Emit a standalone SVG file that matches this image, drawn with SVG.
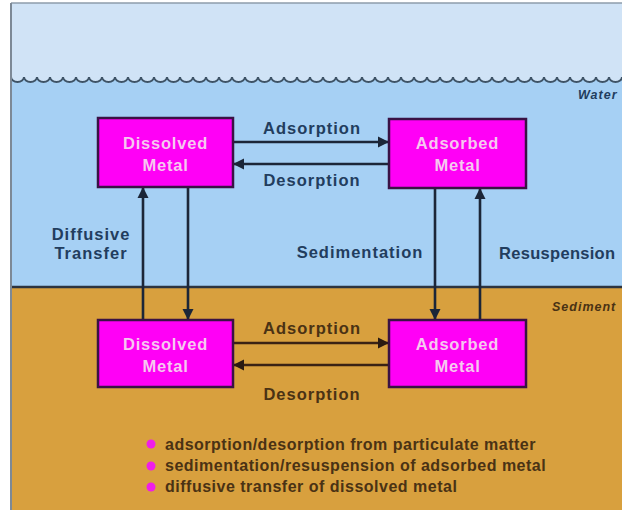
<svg xmlns="http://www.w3.org/2000/svg" width="622" height="510" viewBox="0 0 622 510">
<defs>
<style>
.lbl{font-family:"Liberation Sans",Arial,sans-serif;font-weight:bold;font-size:16.5px;letter-spacing:1px;text-anchor:middle}
.w{fill:#223d5e}
.s{fill:#4a3214}
.box{fill:#ff00f6;stroke:#3a1244;stroke-width:2.5}
.bt{font-family:"Liberation Sans",Arial,sans-serif;font-weight:bold;font-size:16.5px;letter-spacing:0.8px;text-anchor:middle;fill:#f6c8f0}
.tag{font-family:"Liberation Sans",Arial,sans-serif;font-weight:bold;font-style:italic;font-size:12.5px;letter-spacing:1px}
.leg{font-family:"Liberation Sans",Arial,sans-serif;font-weight:bold;font-size:16px;letter-spacing:0.5px;fill:#4a3214}
.cw{stroke:#1c2638;stroke-width:2.6;fill:none}
.cs{stroke:#3a2214;stroke-width:2.6;fill:none}
</style>
<marker id="ah" viewBox="0 0 10 10" refX="10" refY="5" markerWidth="4.4" markerHeight="4.4" orient="auto" markerUnits="strokeWidth">
<path d="M0,0 L10,5 L0,10 z" fill="#1c2638"/>
</marker>
<marker id="ahs" viewBox="0 0 10 10" refX="10" refY="5" markerWidth="4.4" markerHeight="4.4" orient="auto" markerUnits="strokeWidth">
<path d="M0,0 L10,5 L0,10 z" fill="#2a1a12"/>
</marker>
</defs>
<rect x="0" y="0" width="622" height="510" fill="#ffffff"/>
<g id="background">
<rect x="11" y="3" width="611" height="90" fill="#d0e3f6"/>
<path d="M11,77 a6.5,5 0 0 0 13,0 a6.5,5 0 0 0 13,0 a6.5,5 0 0 0 13,0 a6.5,5 0 0 0 13,0 a6.5,5 0 0 0 13,0 a6.5,5 0 0 0 13,0 a6.5,5 0 0 0 13,0 a6.5,5 0 0 0 13,0 a6.5,5 0 0 0 13,0 a6.5,5 0 0 0 13,0 a6.5,5 0 0 0 13,0 a6.5,5 0 0 0 13,0 a6.5,5 0 0 0 13,0 a6.5,5 0 0 0 13,0 a6.5,5 0 0 0 13,0 a6.5,5 0 0 0 13,0 a6.5,5 0 0 0 13,0 a6.5,5 0 0 0 13,0 a6.5,5 0 0 0 13,0 a6.5,5 0 0 0 13,0 a6.5,5 0 0 0 13,0 a6.5,5 0 0 0 13,0 a6.5,5 0 0 0 13,0 a6.5,5 0 0 0 13,0 a6.5,5 0 0 0 13,0 a6.5,5 0 0 0 13,0 a6.5,5 0 0 0 13,0 a6.5,5 0 0 0 13,0 a6.5,5 0 0 0 13,0 a6.5,5 0 0 0 13,0 a6.5,5 0 0 0 13,0 a6.5,5 0 0 0 13,0 a6.5,5 0 0 0 13,0 a6.5,5 0 0 0 13,0 a6.5,5 0 0 0 13,0 a6.5,5 0 0 0 13,0 a6.5,5 0 0 0 13,0 a6.5,5 0 0 0 13,0 a6.5,5 0 0 0 13,0 a6.5,5 0 0 0 13,0 a6.5,5 0 0 0 13,0 a6.5,5 0 0 0 13,0 a6.5,5 0 0 0 13,0 a6.5,5 0 0 0 13,0 a6.5,5 0 0 0 13,0 a6.5,5 0 0 0 13,0 a6.5,5 0 0 0 13,0 L622,287 L11,287 Z" fill="#a6d0f4"/>
<path d="M11,77 a6.5,5 0 0 0 13,0 a6.5,5 0 0 0 13,0 a6.5,5 0 0 0 13,0 a6.5,5 0 0 0 13,0 a6.5,5 0 0 0 13,0 a6.5,5 0 0 0 13,0 a6.5,5 0 0 0 13,0 a6.5,5 0 0 0 13,0 a6.5,5 0 0 0 13,0 a6.5,5 0 0 0 13,0 a6.5,5 0 0 0 13,0 a6.5,5 0 0 0 13,0 a6.5,5 0 0 0 13,0 a6.5,5 0 0 0 13,0 a6.5,5 0 0 0 13,0 a6.5,5 0 0 0 13,0 a6.5,5 0 0 0 13,0 a6.5,5 0 0 0 13,0 a6.5,5 0 0 0 13,0 a6.5,5 0 0 0 13,0 a6.5,5 0 0 0 13,0 a6.5,5 0 0 0 13,0 a6.5,5 0 0 0 13,0 a6.5,5 0 0 0 13,0 a6.5,5 0 0 0 13,0 a6.5,5 0 0 0 13,0 a6.5,5 0 0 0 13,0 a6.5,5 0 0 0 13,0 a6.5,5 0 0 0 13,0 a6.5,5 0 0 0 13,0 a6.5,5 0 0 0 13,0 a6.5,5 0 0 0 13,0 a6.5,5 0 0 0 13,0 a6.5,5 0 0 0 13,0 a6.5,5 0 0 0 13,0 a6.5,5 0 0 0 13,0 a6.5,5 0 0 0 13,0 a6.5,5 0 0 0 13,0 a6.5,5 0 0 0 13,0 a6.5,5 0 0 0 13,0 a6.5,5 0 0 0 13,0 a6.5,5 0 0 0 13,0 a6.5,5 0 0 0 13,0 a6.5,5 0 0 0 13,0 a6.5,5 0 0 0 13,0 a6.5,5 0 0 0 13,0 a6.5,5 0 0 0 13,0" fill="none" stroke="#3e5366" stroke-width="2"/>
<rect x="11" y="287" width="611" height="223" fill="#d8a03e"/>
<line x1="11" y1="287" x2="622" y2="287" stroke="#2c3440" stroke-width="2.5"/>
<line x1="11" y1="3" x2="622" y2="3" stroke="#8e9cab" stroke-width="1.5"/>
<line x1="11" y1="3" x2="11" y2="510" stroke="#7d8996" stroke-width="2"/>
<text class="tag w" x="578" y="99">Water</text>
<text class="tag s" x="552" y="311">Sediment</text>
</g>
<g id="connectors">
<line class="cw" x1="233" y1="142" x2="389" y2="142" marker-end="url(#ah)"/>
<line class="cw" x1="389" y1="164" x2="233" y2="164" marker-end="url(#ah)"/>
<line class="cw" x1="143" y1="320" x2="143" y2="187" marker-end="url(#ah)"/>
<line class="cw" x1="188" y1="187" x2="188" y2="320" marker-end="url(#ah)"/>
<line class="cw" x1="435" y1="188" x2="435" y2="320" marker-end="url(#ah)"/>
<line class="cw" x1="480" y1="320" x2="480" y2="188" marker-end="url(#ah)"/>
<line class="cs" x1="233" y1="343" x2="389" y2="343" marker-end="url(#ahs)"/>
<line class="cs" x1="389" y1="365" x2="233" y2="365" marker-end="url(#ahs)"/>
<text class="lbl w" x="312" y="134">Adsorption</text>
<text class="lbl w" x="312" y="186">Desorption</text>
<text class="lbl w" x="91" y="240">Diffusive</text>
<text class="lbl w" x="91" y="259">Transfer</text>
<text class="lbl w" x="360" y="258">Sedimentation</text>
<text class="lbl w" x="499" y="259" style="text-anchor:start;letter-spacing:0.3px">Resuspension</text>
<text class="lbl s" x="312" y="334">Adsorption</text>
<text class="lbl s" x="312" y="400">Desorption</text>
</g>
<g id="water-dissolved">
<rect class="box" x="98" y="118" width="135" height="69"/>
<text class="bt" x="165.5" y="149">Dissolved</text>
<text class="bt" x="165.5" y="171">Metal</text>
</g>
<g id="water-adsorbed">
<rect class="box" x="389" y="119" width="137" height="69"/>
<text class="bt" x="457.5" y="149">Adsorbed</text>
<text class="bt" x="457.5" y="171">Metal</text>
</g>
<g id="sediment-dissolved">
<rect class="box" x="98" y="320" width="135" height="67"/>
<text class="bt" x="165.5" y="350">Dissolved</text>
<text class="bt" x="165.5" y="372">Metal</text>
</g>
<g id="sediment-adsorbed">
<rect class="box" x="389" y="320" width="137" height="67"/>
<text class="bt" x="457.5" y="350">Adsorbed</text>
<text class="bt" x="457.5" y="372">Metal</text>
</g>
<g id="legend">
<circle cx="151" cy="444" r="4.5" fill="#f01ee8"/>
<circle cx="151" cy="466" r="4.5" fill="#f01ee8"/>
<circle cx="151" cy="487" r="4.5" fill="#f01ee8"/>
<text class="leg" x="165" y="450">adsorption/desorption from particulate matter</text>
<text class="leg" x="165" y="471">sedimentation/resuspension of adsorbed metal</text>
<text class="leg" x="165" y="492">diffusive transfer of dissolved metal</text>
</g>
</svg>
